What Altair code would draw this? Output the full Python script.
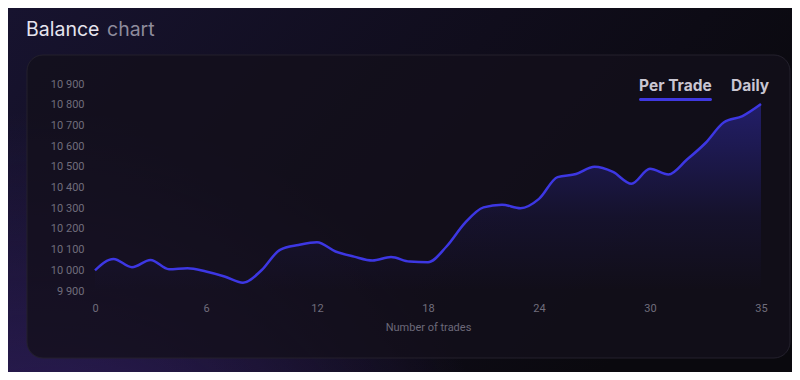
import altair as alt
import pandas as pd

# ---- data ----
trades = list(range(37))
balance = [10000, 10055, 10015, 10050, 10005, 10010, 9994, 9970, 9940, 10000,
           10099, 10122, 10135, 10091, 10066, 10047, 10064, 10042, 10039, 10115,
           10229, 10304, 10317, 10300, 10345, 10450, 10465, 10500, 10475, 10418,
           10490, 10463, 10535, 10615, 10715, 10745, 10803]
x_tick_values = [0, 6, 12, 18, 24, 30, 36]
x_tick_labels = ["0", "6", "12", "18", "24", "30", "35"]
y_ticks = list(range(9900, 10901, 100))
title_main = "Balance"
title_rest = "chart"
tab_labels = ["Per Trade", "Daily"]
x_title = "Number of trades"

df = pd.DataFrame({"trade": trades, "balance": balance})
one = pd.DataFrame({"k": [0]})

label_map = "{" + ",".join(f"'{v}':'{l}'" for v, l in zip(x_tick_values, x_tick_labels)) + "}"

axis_style = dict(zindex=1, grid=False, domain=False, ticks=False,
                  labelColor="#706d7c", labelFont="Roboto", labelFontSize=11,
                  titleColor="#6c6979", titleFont="Roboto", titleFontSize=11,
                  titleFontWeight="normal", labelPadding=11, labelFlush=False)

x_enc = alt.X("trade:Q",
              scale=alt.Scale(domain=[0, 36], nice=False, zero=False),
              axis=alt.Axis(values=x_tick_values, title=x_title, titlePadding=8,
                            labelExpr=f"{label_map}[datum.value + '']", **axis_style))
y_enc = alt.Y("balance:Q",
              scale=alt.Scale(domain=[9900, 10900], nice=False, zero=False),
              axis=alt.Axis(values=y_ticks, title=None,
                            labelExpr="replace(format(datum.value, ','), ',', ' ')", **axis_style))

bg = alt.Chart(one).mark_rect(
    fill=alt.Gradient(gradient="linear", x1=0, y1=0, x2=1, y2=0.4,
                      stops=[alt.GradientStop(color="#17132f", offset=0),
                             alt.GradientStop(color="#100d1c", offset=0.55),
                             alt.GradientStop(color="#0a090e", offset=1)])
).encode(x=alt.value(-87), x2=alt.value(697), y=alt.value(-76), y2=alt.value(288))

glow = alt.Chart(one).mark_rect(
    fill=alt.Gradient(gradient="radial", x1=0.05, y1=1.0, r1=0, x2=0.05, y2=1.0, r2=0.6,
                      stops=[alt.GradientStop(color="rgba(62,38,125,0.8)", offset=0),
                             alt.GradientStop(color="rgba(62,38,125,0)", offset=1)])
).encode(x=alt.value(-87), x2=alt.value(697), y=alt.value(-76), y2=alt.value(288))

card = alt.Chart(one).mark_rect(
    fill="rgba(19,16,27,0.78)", stroke="#24212d", strokeWidth=1, cornerRadius=16
).encode(x=alt.value(-68), x2=alt.value(695), y=alt.value(-29), y2=alt.value(274))

area = alt.Chart(df).mark_area(
    interpolate="monotone",
    fill=alt.Gradient(gradient="linear", x1=1, x2=1, y1=0, y2=1,
                      stops=[alt.GradientStop(color="rgba(58,52,215,0.42)", offset=0),
                             alt.GradientStop(color="rgba(58,52,215,0.10)", offset=0.6),
                             alt.GradientStop(color="rgba(58,52,215,0)", offset=1)])
).encode(x=x_enc, y=y_enc, y2=alt.datum(9900))

line = alt.Chart(df).mark_line(
    interpolate="monotone", color="#3d37e3", strokeWidth=2.5
).encode(x=x_enc, y=y_enc)

t1 = alt.Chart(one).mark_text(
    text=title_main, font="Inter", fontSize=19.5, color="#e6e4ee", align="left", baseline="alphabetic"
).encode(x=alt.value(-69), y=alt.value(-48))
t2 = alt.Chart(one).mark_text(
    text=title_rest, font="Inter", fontSize=19.5, color="#8e8b9c", align="left", baseline="alphabetic"
).encode(x=alt.value(12), y=alt.value(-48))

tab1 = alt.Chart(one).mark_text(
    text=tab_labels[0], font="Inter", fontSize=15.5, fontWeight="bold", color="#c9c6d2",
    align="left", baseline="alphabetic"
).encode(x=alt.value(544), y=alt.value(7))
tab2 = alt.Chart(one).mark_text(
    text=tab_labels[1], font="Inter", fontSize=15.5, fontWeight="bold", color="#c9c6d2",
    align="left", baseline="alphabetic"
).encode(x=alt.value(636), y=alt.value(7))
underline = alt.Chart(one).mark_rect(
    color="#3f38e0", cornerRadius=1.5
).encode(x=alt.value(544), x2=alt.value(617), y=alt.value(14), y2=alt.value(17))

chart = alt.layer(bg, glow, card, area, line, t1, t2, tab1, tab2, underline).properties(
    width=666, height=207,
    autosize=alt.AutoSizeParams(type="none"),
    padding={"left": 87, "top": 76, "right": 31, "bottom": 81},
    background="#0f0d1a",
).configure_view(stroke=None)

chart.save("out.html", embed_options={"renderer": "svg", "actions": False})
